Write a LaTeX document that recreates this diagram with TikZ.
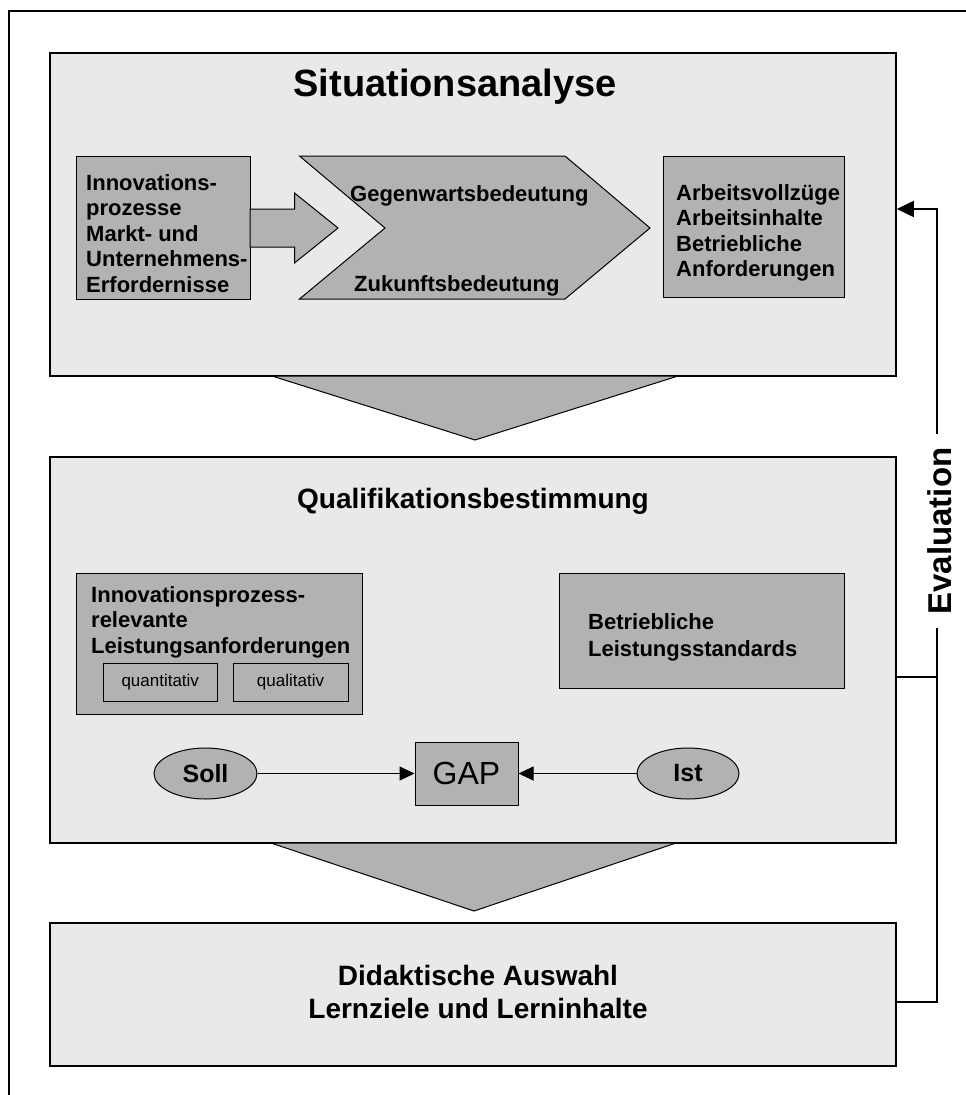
\documentclass[tikz,border=0pt]{standalone}
\usepackage{fontspec}
\setmainfont{Liberation Sans}
\usetikzlibrary{arrows.meta}
\usetikzlibrary{shapes.geometric}

\begin{document}
\begin{tikzpicture}[x=1pt, y=-1pt,
    mainbox/.style={draw=black, line width=1.5pt, fill=gray!17, minimum width=846pt},
    innerbox/.style={draw=black, line width=1pt, fill=gray!60},
    smallbox/.style={draw=black, line width=1pt, fill=gray!60, inner sep=0pt, font=\fontsize{17}{20}\selectfont},
    ovalnode/.style={ellipse, draw=black, line width=1pt, fill=gray!60, inner sep=0pt, font=\fontsize{25}{28}\selectfont\bfseries},
    boxtext/.style={align=left, inner sep=0pt, font=\fontsize{22}{25.5}\selectfont\bfseries},
    flow/.style={draw=black, line width=1pt, fill=gray!60},
    feedback/.style={line width=1.6pt},
    gaparrow/.style={line width=1pt, -{Triangle[length=15pt, width=14pt]}}
  ]
    \useasboundingbox (0,0) rectangle (966,1095);

    % outer frame
    \draw[line width=2pt] (966,11) -- (9,11) -- (9,1095);

    % Situationsanalyse
    \node[mainbox, minimum height=323pt] (situ) at (473,214.5) {};
    \node[anchor=base, font=\fontsize{38}{40}\selectfont\bfseries] (situtitle) at (455,96) {Situationsanalyse};
    \node[innerbox, minimum width=174pt, minimum height=143pt] (innov) at (163,227.5) {};
    \draw[flow] (250,209) -- (294.5,209) -- (294.5,193) -- (338,228) -- (294.5,263) -- (294.5,247) -- (250,247) -- cycle;
    \draw[flow] (299.5,156) -- (565,156) -- (650,228) -- (565,299) -- (299.5,299) -- (385,228) -- cycle;
    \node[innerbox, minimum width=180.5pt, minimum height=141pt] (arbeit) at (753.75,226.5) {};
    \node[boxtext, anchor=north west] (innovtext) at (86,174) {Innovations-\\prozesse\\Markt- und\\Unternehmens-\\Erfordernisse};
    \node[boxtext, anchor=base west] (gegen) at (350,201) {Gegenwartsbedeutung};
    \node[boxtext, anchor=base west] (zukunft) at (354,291) {Zukunftsbedeutung};
    \node[boxtext, anchor=north west] (arbeittext) at (676,184) {Arbeitsvollzüge\\Arbeitsinhalte\\Betriebliche\\Anforderungen};

    % down to Qualifikationsbestimmung
    \draw[flow] (272,376) -- (678,376) -- (475,440) -- cycle;

    % Qualifikationsbestimmung
    \node[mainbox, minimum height=386pt] (quali) at (473,650) {};
    \node[anchor=base, font=\fontsize{28}{31}\selectfont\bfseries] (qualititle) at (473,508) {Qualifikationsbestimmung};
    \node[innerbox, minimum width=286pt, minimum height=141pt] (leistanf) at (219,643.5) {};
    \node[boxtext, anchor=north west] (leistanftext) at (91,586) {Innovationsprozess-\\relevante\\Leistungsanforderungen};
    \node[smallbox, minimum width=114.5pt, minimum height=38pt] (quant) at (160.25,682) {quantitativ};
    \node[smallbox, minimum width=115pt, minimum height=38pt] (qual) at (290.5,682) {qualitativ};
    \node[innerbox, minimum width=285pt, minimum height=115pt] (standards) at (701.5,630.5) {};
    \node[boxtext, anchor=north west] (standardstext) at (588,613) {Betriebliche\\[1.5pt]Leistungsstandards};

    % Soll - GAP - Ist
    \node[innerbox, minimum width=103pt, minimum height=63pt, font=\fontsize{32}{36}\selectfont] (gap) at (466.5,773.5) {GAP};
    \node[ovalnode, minimum width=103pt, minimum height=51pt] (soll) at (205.5,773.5) {Soll};
    \node[ovalnode, minimum width=102pt, minimum height=51pt] (ist) at (688,773.5) {Ist};
    \draw[gaparrow] (soll) -- (gap);
    \draw[gaparrow] (ist) -- (gap);

    % down to Didaktische Auswahl
    \draw[flow] (271,843) -- (676,843) -- (474,911) -- cycle;
    \node[mainbox, minimum height=143pt] (didak) at (473,994.5) {};
    \node[align=center, font=\fontsize{28}{33}\selectfont\bfseries] (didaktext) at (478,991.5) {Didaktische Auswahl\\Lernziele und Lerninhalte};

    % Evaluation loop
    \coordinate (evaltop) at (937,209);
    \coordinate (evalmid) at (937,677);
    \coordinate (evalbot) at (937,1002);
    \draw[feedback, -{Triangle[length=17pt, width=16pt]}] (evalbot -| didak.east) -- (evalbot) -- (evaltop) -- (evaltop -| situ.east);
    \draw[feedback] (evalmid -| quali.east) -- (evalmid);
    \node[rotate=90, fill=white, inner xsep=14pt, inner ysep=2pt, font=\fontsize{33}{36}\selectfont\bfseries] (eval) at (940,531) {Evaluation};
\end{tikzpicture}
\end{document}
